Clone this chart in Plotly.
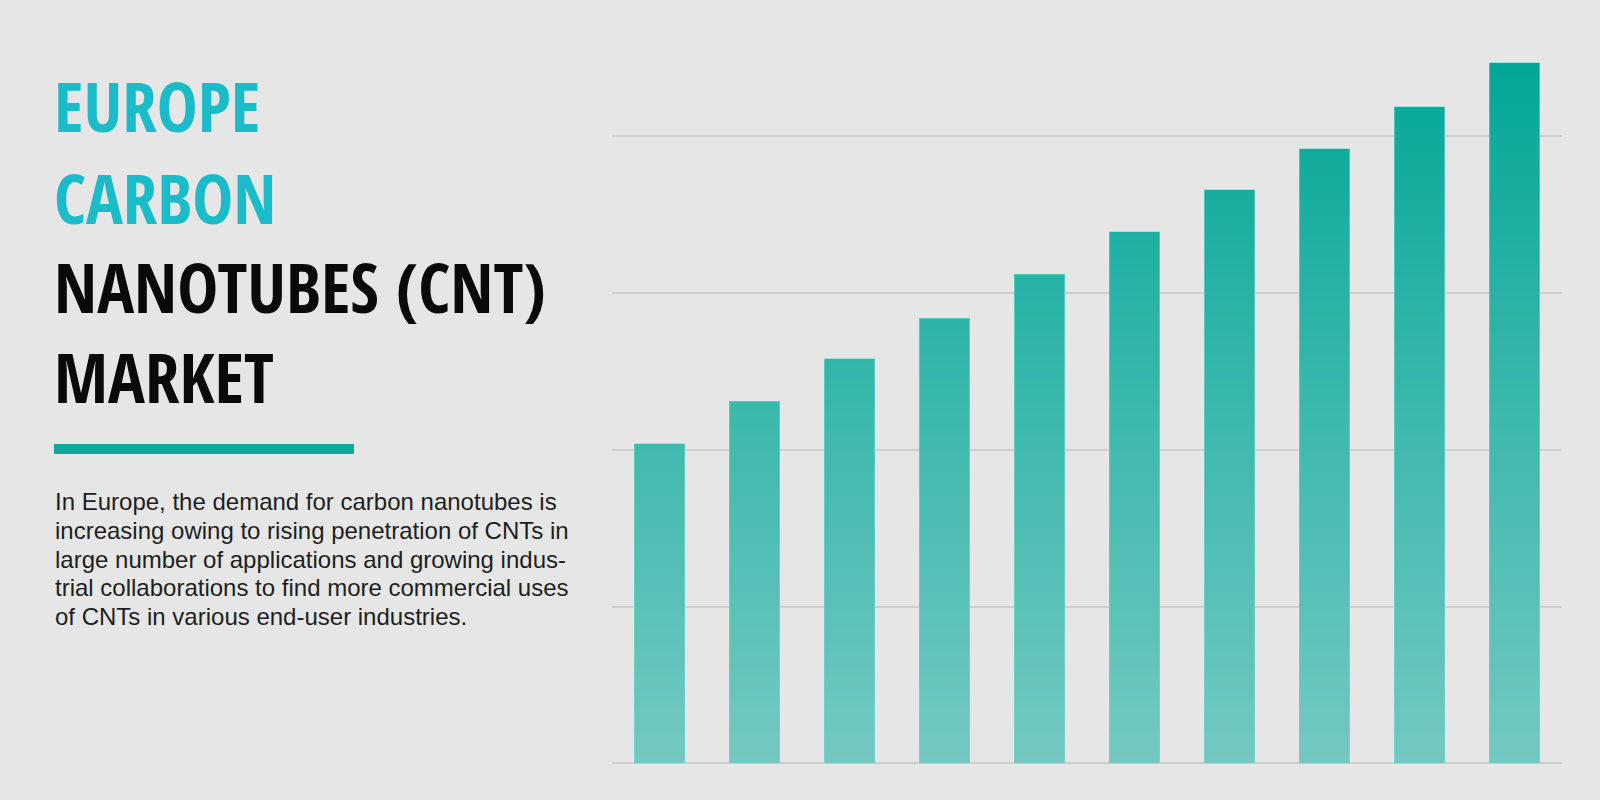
import math
import plotly.graph_objects as go

# ---------------- data ----------------
categories = ["1", "2", "3", "4", "5", "6", "7", "8", "9", "10"]
values = [2.04, 2.31, 2.58, 2.84, 3.12, 3.39, 3.66, 3.92, 4.19, 4.47]
grid_ticks = [0, 1, 2, 3, 4]

title_lines = ["EUROPE", "CARBON", "NANOTUBES (CNT)", "MARKET"]
paragraph_lines = [
    "In Europe, the demand for carbon nanotubes is",
    "increasing owing to rising penetration of CNTs in",
    "large number of applications and growing indus-",
    "trial collaborations to find more commercial uses",
    "of CNTs in various end-user industries.",
]

# ---------------- styling ----------------
W, H = 1600, 800
BG = "#E6E6E6"
CYAN = "#1BBCCA"
BLACK = "#0A0A0A"
TEAL_LINE = "#10A89C"
GRID = "#CFCFCF"
BOTTOM_RGB = (116, 201, 193)
TOP_RGB = (3, 167, 151)

plot_left, plot_right = 612, 1562
y0_px, unit_px = 763.3, 156.75
y_max = 4.6
plot_top = y0_px - y_max * unit_px


def px_x(p):
    return p / W


def px_y(p):
    return 1 - p / H


def grad_color(v, vmax):
    t = max(0.0, min(1.0, v / vmax))
    r = [round(b + (tp - b) * t) for b, tp in zip(BOTTOM_RGB, TOP_RGB)]
    return f"rgb({r[0]},{r[1]},{r[2]})"


fig = go.Figure()

# vertical gradient built from stacked bands of each bar's value
step = 0.05
vmax = max(values)
n_bands = math.ceil(vmax / step)
for k in range(n_bands):
    lo = k * step
    seg = [min(max(v - lo, 0.0), step) for v in values]
    fig.add_trace(go.Bar(
        x=categories, y=seg,
        marker=dict(color=grad_color(lo + step / 2, vmax), line=dict(width=0)),
        hoverinfo="skip", showlegend=False,
    ))

# thin light edge around each bar
fig.add_trace(go.Bar(
    x=categories, y=values, xaxis="x2", yaxis="y2",
    marker=dict(color="rgba(0,0,0,0)", line=dict(width=1, color="rgba(110,222,212,0.55)")),
    hoverinfo="skip", showlegend=False,
))

TITLE_FONT = "Open Sans Condensed, Roboto Condensed, Open Sans, sans-serif"
annotations = []
title_centers = [104.5, 196.5, 285.5, 376]
title_colors = [CYAN, CYAN, BLACK, BLACK]
for txt, cy, col in zip(title_lines, title_centers, title_colors):
    annotations.append(dict(
        text=f"<span style='font-stretch:condensed'>{txt}</span>",
        x=px_x(53), y=px_y(cy), xref="paper", yref="paper",
        xanchor="left", yanchor="middle", showarrow=False, borderpad=0,
        font=dict(family=TITLE_FONT, size=69, color=col, weight=800),
    ))

para_centers = [501.5, 530.3, 559.1, 587.9, 616.7]
for txt, cy in zip(paragraph_lines, para_centers):
    annotations.append(dict(
        text=txt, x=px_x(54), y=px_y(cy), xref="paper", yref="paper",
        xanchor="left", yanchor="middle", showarrow=False, borderpad=0,
        font=dict(family="Liberation Sans, Arial, sans-serif", size=24, color="#1E1E1E"),
    ))

shapes = [dict(
    type="rect", xref="paper", yref="paper",
    x0=px_x(54), x1=px_x(354), y0=px_y(454), y1=px_y(444),
    fillcolor=TEAL_LINE, line=dict(width=0), layer="above",
)]

xdom = [px_x(plot_left), px_x(plot_right)]
ydom = [px_y(y0_px), px_y(plot_top)]

fig.update_layout(
    width=W, height=H,
    margin=dict(l=0, r=0, t=0, b=0),
    paper_bgcolor=BG, plot_bgcolor=BG,
    barmode="stack", bargap=0.47,
    showlegend=False,
    xaxis=dict(domain=xdom, range=[-0.5, 9.5], showticklabels=False, showgrid=False,
               zeroline=False, showline=False, ticks="", fixedrange=True),
    yaxis=dict(domain=ydom, range=[0, y_max], tickvals=grid_ticks, showticklabels=False,
               showgrid=True, gridcolor=GRID, gridwidth=2, zeroline=True,
               zerolinecolor=GRID, zerolinewidth=2, showline=False, ticks="", fixedrange=True),
    xaxis2=dict(domain=xdom, range=[-0.5, 9.5], overlaying="x", visible=False, fixedrange=True),
    yaxis2=dict(domain=ydom, range=[0, y_max], overlaying="y", visible=False, fixedrange=True),
    annotations=annotations,
    shapes=shapes,
    font=dict(family="Liberation Sans, Arial, sans-serif"),
)

fig.write_html(
    "out.html",
    config={"displayModeBar": False, "staticPlot": True},
    post_script="document.body.style.margin='0';document.body.style.overflow='hidden';",
)
